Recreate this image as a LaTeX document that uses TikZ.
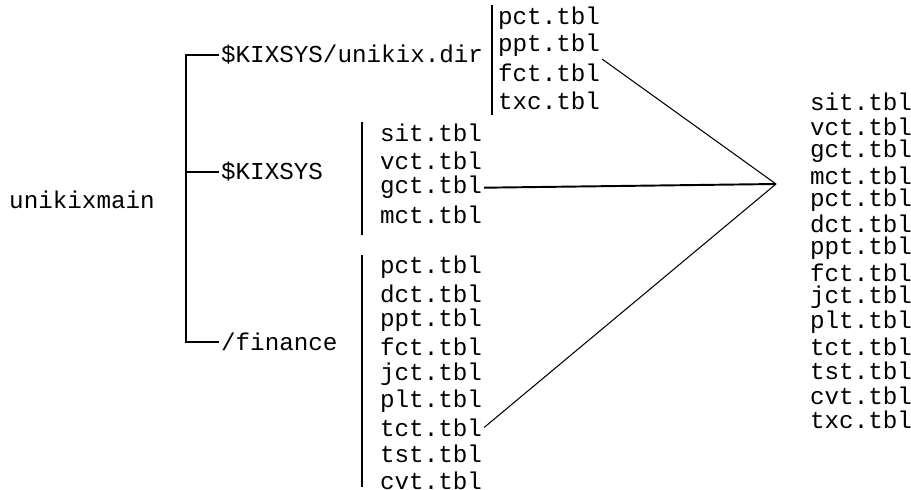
\documentclass[tikz,border=0pt]{standalone}
\usepackage{fontspec}
\setmainfont{Liberation Mono}
\usepackage{tikz}
\usetikzlibrary{calc}

\begin{document}
\begin{tikzpicture}[font=\fontsize{13.8}{16}\selectfont,
  lbl/.style={anchor=west, inner sep=1pt},
  file/.style={anchor=west, inner sep=1pt},
  bar/.style={line width=1.5pt},
  link/.style={line width=0.6pt},
  hublink/.style={line width=1.1pt}]
  \useasboundingbox (0,0) rectangle (18.22,9.78);

  % root and directories
  \node[inner sep=1pt] (root) at (1.64,5.78) {unikixmain};
  \node[lbl] (dirA) at (4.38,8.68) {\$KIXSYS/unikix.dir};
  \node[lbl] (dirB) at (4.38,6.34) {\$KIXSYS};
  \node[lbl] (dirC) at (4.38,2.94) {/finance};
  \coordinate (trunk) at (3.72,6.34);
  \draw[bar] (dirA.west) -| (trunk) |- (dirC.west);
  \draw[bar] (trunk) -- (dirB.west);

  % files per directory
  \foreach \f [count=\i] in {pct,ppt,fct,txc}
    \node[file] (a\i) at (9.92,{9.42-0.553*(\i-1)}) {\f.tbl};
  \foreach \f [count=\i] in {sit,vct,gct,mct}
    \node[file] (b\i) at (7.56,{7.12-0.547*(\i-1)}) {\f.tbl};
  \foreach \f [count=\i] in {pct,dct,ppt,fct,jct,plt,tct,tst,cvt}
    \node[file] (c\i) at (7.56,{4.44-0.535*(\i-1)}) {\f.tbl};
  \draw[bar] (9.84,9.68) -- (9.84,7.48);
  \draw[bar] (7.24,7.34) -- (7.24,5.08);
  \draw[bar] (7.24,4.68) -- (7.24,0.04);

  % merged list
  \foreach \f [count=\i] in {sit,vct,gct,mct,pct,dct,ppt,fct,jct,plt,tct,tst,cvt,txc}
    \node[file] (m\i) at (16.16,{7.74-0.489*(\i-1)}) {\f.tbl};

  \coordinate (hub) at (15.52,6.10);
  \draw[link] (a2.south east) -- (hub);
  \draw[hublink] (b3.east) -- (hub);
  \draw[link] (c7.east) -- (hub);
\end{tikzpicture}
\end{document}
